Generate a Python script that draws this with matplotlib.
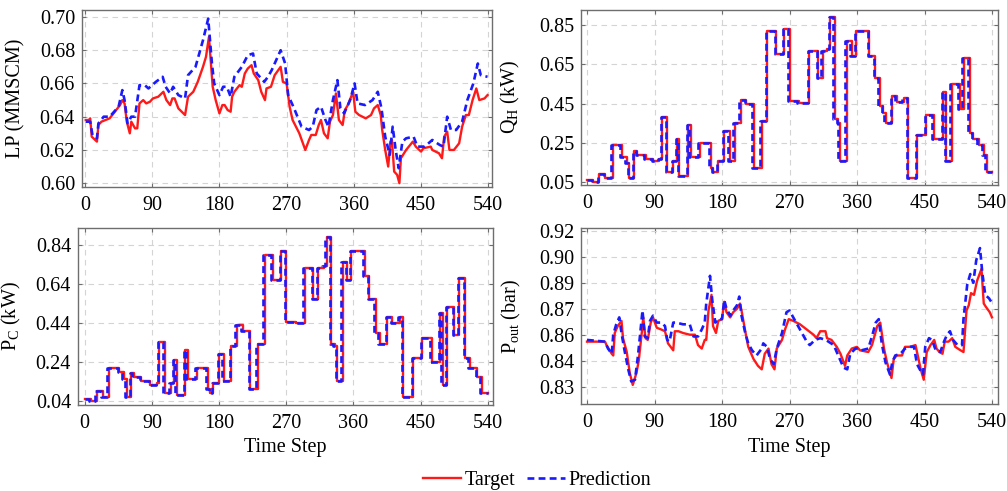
import numpy as np
import matplotlib
matplotlib.use('Agg')
import matplotlib.pyplot as plt
from matplotlib.lines import Line2D

plt.rcParams['font.family'] = 'Liberation Serif'
plt.rcParams['mathtext.fontset'] = 'custom'
plt.rcParams['mathtext.rm'] = 'Liberation Serif'
plt.rcParams['mathtext.it'] = 'Liberation Serif:italic'
plt.rcParams['font.size'] = 14.5

# ---- LP (MMSCM): target and prediction (time step, value) ----
lp_t = [1, 5, 7, 9, 16, 18, 22, 33, 40, 47, 50, 53, 56, 60, 62, 67, 70, 73, 78, 82,
        87, 91, 98, 105, 109, 114, 117, 120, 125, 134, 138, 145, 151, 158, 162, 166, 169, 171, 175, 180,
        184, 187, 191, 195, 197, 200, 207, 210, 214, 218, 223, 226, 232, 236, 241, 243, 249, 254, 262, 265,
        270, 274, 278, 287, 295, 300, 303, 309, 313, 316, 320, 325, 328, 332, 336, 340, 345, 348, 352, 359,
        362, 367, 376, 383, 387, 392, 396, 398, 402, 406, 409, 411, 414, 418, 421, 423, 430, 439, 443, 450,
        453, 463, 465, 474, 478, 481, 485, 488, 494, 501, 505, 510, 514, 519, 524, 528, 535, 539]
lp_v = [0.638, 0.638, 0.639, 0.628, 0.625, 0.635, 0.637, 0.639, 0.643, 0.647, 0.650, 0.648, 0.637, 0.630, 0.637, 0.633, 0.633, 0.648, 0.650, 0.648,
        0.649, 0.651, 0.652, 0.655, 0.650, 0.647, 0.651, 0.651, 0.645, 0.641, 0.652, 0.655, 0.661, 0.670, 0.676, 0.688, 0.670, 0.658, 0.650, 0.642,
        0.647, 0.647, 0.644, 0.643, 0.652, 0.655, 0.659, 0.658, 0.666, 0.669, 0.671, 0.666, 0.662, 0.655, 0.650, 0.657, 0.658, 0.665, 0.670, 0.661,
        0.660, 0.646, 0.638, 0.630, 0.620, 0.626, 0.629, 0.629, 0.635, 0.638, 0.630, 0.627, 0.637, 0.641, 0.654, 0.638, 0.635, 0.644, 0.647, 0.655,
        0.643, 0.641, 0.639, 0.641, 0.645, 0.647, 0.641, 0.632, 0.620, 0.610, 0.625, 0.626, 0.607, 0.605, 0.600, 0.615, 0.620, 0.625, 0.622, 0.619,
        0.621, 0.622, 0.620, 0.618, 0.615, 0.628, 0.631, 0.620, 0.620, 0.624, 0.634, 0.641, 0.641, 0.650, 0.657, 0.650, 0.651, 0.653]
lp_pred_t = [1, 7, 10, 16, 18, 25, 33, 45, 50, 53, 57, 62, 67, 73, 80, 85, 95, 104, 108, 114,
             118, 125, 134, 138, 148, 158, 165, 170, 173, 180, 185, 190, 195, 200, 210, 218, 225, 230, 240, 245,
             250, 262, 268, 272, 280, 290, 300, 305, 310, 316, 322, 326, 332, 338, 342, 347, 355, 361, 365, 375,
             385, 392, 397, 402, 408, 412, 416, 420, 425, 430, 440, 445, 455, 465, 475, 480, 485, 490, 497, 505,
             512, 520, 526, 530, 539]
lp_pred_v = [0.637, 0.637, 0.629, 0.627, 0.636, 0.640, 0.640, 0.646, 0.656, 0.650, 0.636, 0.640, 0.640, 0.659, 0.659, 0.657, 0.661, 0.664, 0.658, 0.654,
             0.658, 0.653, 0.651, 0.665, 0.670, 0.686, 0.699, 0.672, 0.660, 0.653, 0.658, 0.658, 0.652, 0.664, 0.670, 0.677, 0.678, 0.666, 0.661, 0.664,
             0.668, 0.680, 0.672, 0.653, 0.645, 0.634, 0.632, 0.634, 0.644, 0.646, 0.638, 0.634, 0.650, 0.662, 0.645, 0.642, 0.650, 0.660, 0.648, 0.647,
             0.650, 0.655, 0.645, 0.628, 0.617, 0.634, 0.620, 0.609, 0.625, 0.627, 0.628, 0.622, 0.622, 0.626, 0.623, 0.622, 0.640, 0.632, 0.632, 0.637,
             0.650, 0.660, 0.672, 0.665, 0.664]

# ---- Q_H (kW): step changes (time step where level starts, level) ----
qh_t = [0, 8, 16, 24, 34, 46, 53, 56, 63, 67, 78, 88, 96, 100, 107, 115, 120, 123, 135, 138,
        150, 165, 168, 175, 183, 190, 197, 205, 212, 222, 233, 240, 252, 263, 270, 282, 296, 308, 314, 320,
        324, 330, 335, 337, 346, 353, 359, 376, 384, 390, 395, 398, 407, 413, 422, 428, 440, 452, 462, 475,
        479, 486, 497, 502, 510, 515, 522, 529, 533, 540]
qh_pred_t = [0, 6, 14, 22, 32, 44, 51, 54, 61, 65, 76, 86, 94, 98, 105, 113, 118, 121, 133, 136,
             148, 163, 166, 173, 181, 188, 195, 203, 210, 220, 231, 238, 250, 261, 268, 280, 294, 306, 312, 318,
             322, 328, 333, 335, 344, 351, 357, 374, 382, 388, 393, 396, 405, 411, 420, 426, 438, 450, 460, 473,
             477, 484, 495, 500, 508, 513, 520, 527, 531, 540]
qh_v = [0.06, 0.05, 0.09, 0.07, 0.24, 0.18, 0.15, 0.07, 0.21, 0.19, 0.17, 0.16, 0.17, 0.38, 0.10, 0.16, 0.27, 0.08, 0.34, 0.18,
        0.25, 0.12, 0.10, 0.16, 0.31, 0.16, 0.35, 0.47, 0.45, 0.12, 0.36, 0.82, 0.70, 0.83, 0.465, 0.455, 0.72, 0.58, 0.72, 0.73,
        0.89, 0.37, 0.35, 0.16, 0.77, 0.69, 0.82, 0.69, 0.58, 0.44, 0.40, 0.35, 0.49, 0.46, 0.48, 0.07, 0.29, 0.39, 0.27, 0.51,
        0.16, 0.55, 0.42, 0.68, 0.30, 0.27, 0.24, 0.19, 0.10, 0.10]

# ---- P_C (kW): step changes ----
pc_t = [0, 8, 16, 24, 32, 46, 52, 56, 62, 66, 76, 88, 97, 100, 107, 115, 120, 123, 135, 138,
        150, 165, 168, 172, 180, 186, 196, 204, 212, 222, 232, 241, 252, 263, 270, 283, 295, 306, 313, 320,
        324, 330, 335, 338, 346, 352, 357, 375, 381, 390, 395, 405, 412, 422, 427, 440, 452, 465, 476, 480,
        486, 495, 502, 510, 516, 526, 532, 540]
pc_pred_t = [0, 6, 14, 22, 30, 44, 50, 54, 60, 64, 74, 86, 95, 98, 105, 113, 118, 121, 133, 136,
             148, 163, 166, 170, 178, 184, 194, 202, 210, 220, 230, 239, 250, 261, 268, 281, 293, 304, 311, 318,
             322, 328, 333, 336, 344, 350, 355, 373, 379, 388, 393, 403, 410, 420, 425, 438, 450, 463, 474, 478,
             484, 493, 500, 508, 514, 524, 530, 540]
pc_v = [0.05, 0.04, 0.09, 0.06, 0.21, 0.19, 0.15, 0.06, 0.18, 0.16, 0.14, 0.12, 0.13, 0.34, 0.08, 0.13, 0.25, 0.07, 0.30, 0.15,
        0.21, 0.10, 0.08, 0.13, 0.28, 0.14, 0.32, 0.43, 0.40, 0.10, 0.33, 0.79, 0.66, 0.81, 0.445, 0.44, 0.72, 0.56, 0.72, 0.73,
        0.88, 0.33, 0.32, 0.14, 0.75, 0.66, 0.81, 0.68, 0.56, 0.39, 0.33, 0.47, 0.44, 0.47, 0.06, 0.26, 0.36, 0.24, 0.49, 0.12,
        0.52, 0.38, 0.67, 0.26, 0.21, 0.16, 0.08, 0.08]

# ---- P_out (bar) ----
po_t = [0, 24, 26, 33, 35, 37, 41, 46, 48, 53, 57, 61, 66, 69, 73, 75, 78, 81, 85, 88,
        93, 99, 104, 108, 115, 117, 122, 128, 137, 144, 148, 153, 157, 159, 162, 166, 168, 172, 175, 180,
        183, 186, 191, 195, 200, 204, 206, 211, 215, 222, 228, 233, 237, 242, 246, 250, 253, 260, 264, 269,
        275, 284, 293, 302, 306, 311, 318, 320, 326, 333, 338, 344, 347, 353, 360, 364, 375, 380, 387, 391,
        396, 400, 406, 409, 413, 420, 424, 431, 438, 441, 445, 449, 453, 458, 463, 466, 470, 474, 477, 482,
        487, 491, 498, 502, 506, 509, 512, 516, 520, 526, 529, 532, 537, 540]
po_v = [0.856, 0.856, 0.854, 0.849, 0.848, 0.861, 0.865, 0.868, 0.858, 0.850, 0.838, 0.831, 0.838, 0.845, 0.861, 0.870, 0.858, 0.857, 0.867, 0.870,
        0.864, 0.863, 0.862, 0.855, 0.851, 0.862, 0.862, 0.861, 0.860, 0.860, 0.854, 0.852, 0.857, 0.857, 0.874, 0.883, 0.865, 0.861, 0.868, 0.869,
        0.879, 0.873, 0.870, 0.873, 0.875, 0.878, 0.874, 0.862, 0.853, 0.846, 0.842, 0.840, 0.849, 0.852, 0.843, 0.840, 0.852, 0.857, 0.863, 0.869,
        0.868, 0.866, 0.863, 0.860, 0.858, 0.862, 0.862, 0.858, 0.857, 0.853, 0.849, 0.842, 0.848, 0.852, 0.853, 0.851, 0.850, 0.854, 0.865, 0.867,
        0.852, 0.844, 0.835, 0.846, 0.848, 0.848, 0.853, 0.853, 0.854, 0.848, 0.840, 0.834, 0.850, 0.854, 0.857, 0.852, 0.850, 0.849, 0.856, 0.856,
        0.858, 0.853, 0.851, 0.850, 0.874, 0.877, 0.884, 0.883, 0.891, 0.898, 0.878, 0.876, 0.873, 0.870]
po_pred_t = [0, 24, 28, 33, 35, 39, 43, 46, 50, 55, 59, 64, 68, 71, 74, 77, 81, 84, 88, 93,
             99, 104, 107, 110, 115, 119, 128, 137, 142, 148, 153, 157, 159, 164, 167, 171, 175, 180, 183, 186,
             191, 195, 200, 203, 206, 211, 215, 220, 226, 233, 235, 240, 244, 249, 253, 260, 266, 270, 275, 284,
             293, 297, 304, 311, 318, 322, 329, 335, 342, 347, 351, 358, 362, 366, 375, 380, 385, 389, 393, 398,
             404, 407, 411, 418, 424, 431, 436, 440, 445, 448, 451, 456, 460, 465, 471, 476, 480, 484, 488, 494,
             500, 502, 507, 511, 515, 519, 524, 527, 531, 536, 539]
po_pred_v = [0.857, 0.856, 0.852, 0.849, 0.860, 0.866, 0.870, 0.861, 0.851, 0.840, 0.833, 0.834, 0.848, 0.861, 0.874, 0.859, 0.858, 0.868, 0.871, 0.867,
             0.867, 0.865, 0.857, 0.856, 0.867, 0.867, 0.866, 0.866, 0.859, 0.859, 0.863, 0.867, 0.878, 0.894, 0.880, 0.867, 0.869, 0.869, 0.880, 0.875,
             0.871, 0.874, 0.877, 0.882, 0.871, 0.861, 0.855, 0.851, 0.848, 0.852, 0.855, 0.853, 0.846, 0.843, 0.852, 0.861, 0.873, 0.874, 0.870, 0.863,
             0.856, 0.854, 0.857, 0.858, 0.857, 0.856, 0.854, 0.848, 0.841, 0.840, 0.849, 0.852, 0.852, 0.851, 0.852, 0.859, 0.867, 0.869, 0.855, 0.844,
             0.837, 0.844, 0.848, 0.849, 0.852, 0.853, 0.853, 0.843, 0.839, 0.837, 0.853, 0.858, 0.857, 0.851, 0.850, 0.856, 0.860, 0.862, 0.857, 0.854,
             0.854, 0.869, 0.889, 0.895, 0.890, 0.903, 0.910, 0.896, 0.883, 0.881, 0.879]

x_ticks = [0, 90, 180, 270, 360, 450, 540]
po_ticks = [0.83, 0.845, 0.86, 0.875, 0.89, 0.905, 0.92]
po_tick_labels = ['0.83', '0.84', '0.86', '0.87', '0.89', '0.90', '0.92']

red = '#ff1a1a'
blue = '#1a1aff'
frame = '#6e6e6e'

fig = plt.figure(figsize=(10.07, 4.91), dpi=100)
W, H = 1007, 491


def add_ax(l, t, r, b):
    return fig.add_axes([l / W, 1 - b / H, (r - l) / W, (b - t) / H])


ax1 = add_ax(82, 10, 492, 186.5)
ax2 = add_ax(581, 10, 998, 185)
ax3 = add_ax(78, 228, 493, 404.7)
ax4 = add_ax(581, 228, 998, 404)

lw_t, lw_p = 1.7, 1.9
dash = (2.6, 1.6)

ax1.plot(lp_t, lp_v, color=red, lw=lw_t)
ax1.plot(lp_pred_t, lp_pred_v, color=blue, lw=lw_p, ls='--', dashes=dash)

ax2.plot(qh_t, qh_v, color=red, lw=lw_t, drawstyle='steps-post')
ax2.plot(qh_pred_t, qh_v, color=blue, lw=lw_p, ls='--', dashes=dash, drawstyle='steps-post')

ax3.plot(pc_t, pc_v, color=red, lw=lw_t, drawstyle='steps-post')
ax3.plot(pc_pred_t, pc_v, color=blue, lw=lw_p, ls='--', dashes=dash, drawstyle='steps-post')

ax4.plot(po_t, po_v, color=red, lw=lw_t)
ax4.plot(po_pred_t, po_pred_v, color=blue, lw=lw_p, ls='--', dashes=dash)

ax1.set_xlim(-4, 545)
ax1.set_ylim(0.598, 0.7042)
ax1.set_yticks(np.arange(0.60, 0.701, 0.02))
ax1.set_yticklabels(['0.60', '0.62', '0.64', '0.66', '0.68', '0.70'])
ax1.set_ylabel('LP (MMSCM)')

ax2.set_xlim(-8, 548)
ax2.set_ylim(0.036, 0.926)
ax2.set_yticks([0.05, 0.25, 0.45, 0.65, 0.85])
ax2.set_yticklabels(['0.05', '0.25', '0.45', '0.65', '0.85'])
ax2.set_ylabel(r'$\mathregular{Q_H}$ (kW)')

ax3.set_xlim(-9, 547)
ax3.set_ylim(0.0195, 0.927)
ax3.set_yticks([0.04, 0.24, 0.44, 0.64, 0.84])
ax3.set_yticklabels(['0.04', '0.24', '0.44', '0.64', '0.84'])
ax3.set_ylabel(r'$\mathregular{P_C}$ (kW)')
ax3.set_xlabel('Time Step', labelpad=4)

ax4.set_xlim(-8, 548)
ax4.set_ylim(0.82, 0.9216)
ax4.set_yticks(po_ticks)
ax4.set_yticklabels(po_tick_labels)
ax4.set_ylabel(r'$\mathregular{P_{out}}$ (bar)')
ax4.set_xlabel('Time Step', labelpad=4)

label_x = {ax1: (25 - 82) / 410, ax2: (522 - 581) / 417,
           ax3: (23 - 78) / 415, ax4: (523 - 581) / 417}

for ax in (ax1, ax2, ax3, ax4):
    ax.set_xticks(x_ticks)
    ax.grid(True, color='#d4d4d4', ls='--', lw=0.8, dashes=(5, 4))
    ax.set_axisbelow(True)
    ax.tick_params(direction='in', length=3, width=0.8, color=frame,
                   top=True, right=True, labelsize=14.5)
    ax.tick_params(axis='x', pad=6.5)
    ax.tick_params(axis='y', pad=5)
    for s in ax.spines.values():
        s.set_color(frame)
        s.set_linewidth(1.0)
    ax.yaxis.set_label_coords(label_x[ax], 0.5)

handles = [Line2D([], [], color=red, lw=lw_t),
           Line2D([], [], color=blue, lw=lw_p, ls='--', dashes=dash)]
fig.legend(handles, ['Target', 'Prediction'], loc='center',
           bbox_to_anchor=(537 / W, 1 - 480 / H), ncol=2, frameon=False,
           handlelength=1.9, handletextpad=0.15, columnspacing=0.6, fontsize=14.5)

fig.savefig('out.png', dpi=100)
